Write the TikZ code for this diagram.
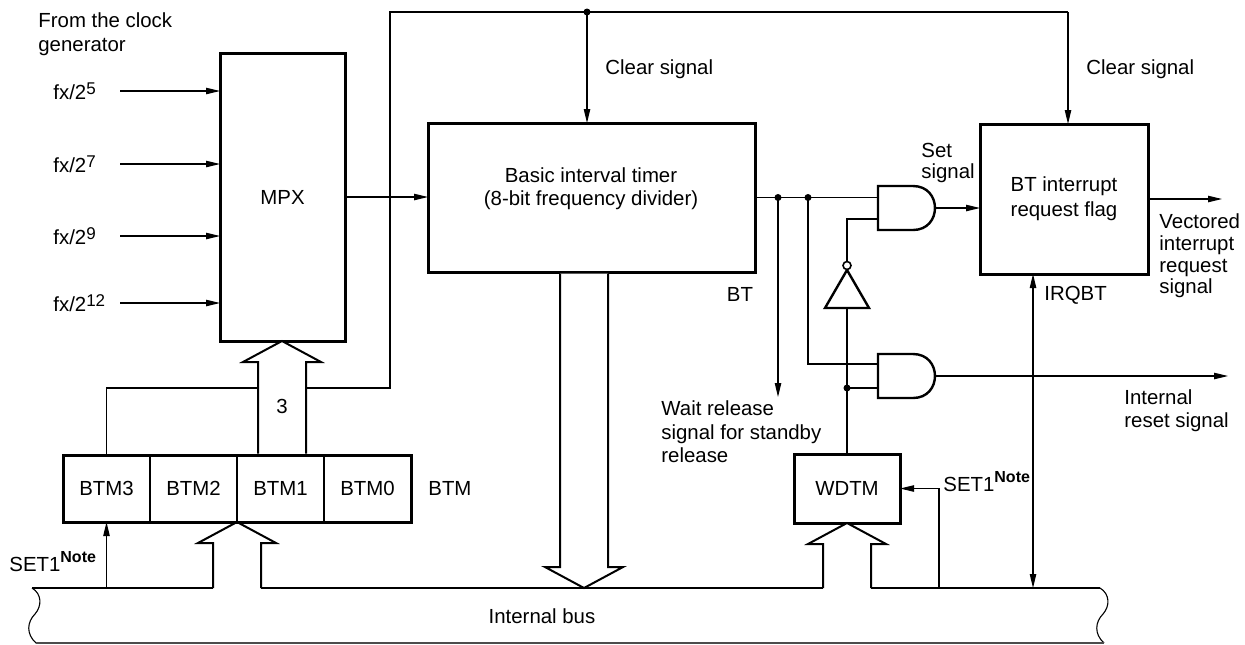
\documentclass[tikz,border=0pt]{standalone}
\usepackage{fontspec}
\setmainfont{Liberation Sans}
\usetikzlibrary{arrows.meta,calc}
\newcommand\wideup[3]{%
  \fill[white] (#1,#2) -- (#1+39,#2+21) -- (#1+24,#2+21) -- (#1+24,#3) -- (#1-24,#3) -- (#1-24,#2+21) -- (#1-39,#2+21) -- cycle;
  \draw[wide] (#1-24,#3) -- (#1-24,#2+21) -- (#1-39,#2+21) -- (#1,#2) -- (#1+39,#2+21) -- (#1+24,#2+21) -- (#1+24,#3);}
\newcommand\widedown[3]{%
  \fill[white] (#1,#2) -- (#1+39,#2-21) -- (#1+24,#2-21) -- (#1+24,#3) -- (#1-24,#3) -- (#1-24,#2-21) -- (#1-39,#2-21) -- cycle;
  \draw[wide] (#1-24,#3) -- (#1-24,#2-21) -- (#1-39,#2-21) -- (#1,#2) -- (#1+39,#2-21) -- (#1+24,#2-21) -- (#1+24,#3);}
\newcommand\mysup[1]{\raisebox{2.6pt}{\fontsize{8.5}{9}\selectfont #1}}
\newcommand\mynote{\raisebox{4.5pt}{\fontsize{8}{9}\selectfont\bfseries Note}}
\begin{document}
\begin{tikzpicture}[x=0.5pt,y=-0.5pt,
  font=\fontsize{10.2}{12}\selectfont,
  box/.style={draw,line width=1.5pt,inner sep=0pt,outer sep=0pt,align=center},
  cell/.style={draw,line width=0.8pt,inner sep=0pt,outer sep=0pt,minimum width=43.5pt,minimum height=33.5pt},
  sig/.style={line width=0.55pt},
  arr/.style={sig,-{Triangle[length=7pt,width=3.2pt]}},
  dblarr/.style={sig,{Triangle[length=7pt,width=3.2pt]}-{Triangle[length=7pt,width=3.2pt]}},
  gate/.style={line width=1.2pt,fill=white},
  wide/.style={line width=1pt},
  lbl/.style={inner sep=0pt,anchor=west,align=left},
  num/.style={inner sep=0pt}
]
\useasboundingbox (0,0) rectangle (1245,644);

% ---- blocks
\node[box,minimum width=62.5pt,minimum height=144pt] (mpx) at (282.5,197) {MPX};
\node[box,minimum width=163.5pt,minimum height=74.5pt] (bt) at (591.5,197.5) {};
\node[align=center,inner sep=0pt,font=\fontsize{10.2}{11.6}\selectfont] (bttxt) at (591,189) {Basic interval timer\\(8-bit frequency divider)};
\node[box,minimum width=84pt,minimum height=75pt,font=\fontsize{10.2}{12.4}\selectfont] (flag) at (1064,199) {BT interrupt\\request flag};
\node[box,minimum width=53pt,minimum height=34.5pt] (wdtm) at (847,488.5) {WDTM};
\node[cell] (btm3) at (106.5,488.5) {BTM3};
\node[cell] (btm2) at (193.5,488.5) {BTM2};
\node[cell] (btm1) at (280.5,488.5) {BTM1};
\node[cell] (btm0) at (367.5,488.5) {BTM0};

% ---- labels
\node[lbl] (from) at (38,34) {From the clock\\generator};
\node[lbl] (f5) at (53,91) {fx/2\mysup{5}};
\node[lbl] (f7) at (53,164) {fx/2\mysup{7}};
\node[lbl] (f9) at (53,236) {fx/2\mysup{9}};
\node[lbl] (f12) at (53,303) {fx/2\mysup{12}};
\node[lbl] (clr1) at (605,69) {Clear signal};
\node[lbl] (clr2) at (1086,69) {Clear signal};
\node[lbl,font=\fontsize{10.2}{10.6}\selectfont] (setl) at (921,163) {Set\\signal};
\node[lbl,font=\fontsize{10.2}{10.8}\selectfont] (vec) at (1159,256) {Vectored\\interrupt\\request\\signal};
\node[num] (btl) at (740,294) {BT};
\node[lbl] (irql) at (1044,295) {IRQBT};
\node[lbl,font=\fontsize{10.2}{11.75}\selectfont] (wait) at (661,432) {Wait release\\signal for standby\\release};
\node[lbl,font=\fontsize{10.2}{11.6}\selectfont] (rst) at (1124,411) {Internal\\reset signal};
\node[lbl] (btml) at (428,488) {BTM};
\node[num] (n3) at (282,406) {3};
\node[num] (n4) at (236,560) {4};
\node[num] (n8) at (583,555) {8};
\node[num] (n1) at (847,560) {1};
\node[lbl] (set1a) at (9,562) {SET1\mynote};
\node[lbl] (set1b) at (943,482) {SET1\mynote};
\node[num] (busl) at (542,616) {Internal bus};

% ---- clock inputs
\coordinate (inx) at (120,0);
\foreach \f in {f5,f7,f9,f12}{\draw[arr] (\f -| inx) -- (\f -| mpx.west);}
\draw[arr] (mpx.east) -- (mpx.east -| bt.west);

% ---- top clear network
\coordinate (bend) at (390,388);
\coordinate (tl) at (390,12);
\coordinate (tj) at (587,12);
\coordinate (tr) at (1068,12);
\draw[sig] (btm3.north) |- (bend) -- (tl) -- (tr);
\draw[arr] (tj) -- (tj |- bt.north);
\draw[arr] (tr) -- (tr |- flag.north);
\fill (tj) circle[radius=1.75pt];

% ---- gates
\draw[gate] (878,186) -- (913,186) .. controls (942.3,186) and (942.3,230) .. (913,230) -- (878,230) -- cycle;
\draw[gate] (878,354) -- (913,354) .. controls (942.3,354) and (942.3,398) .. (913,398) -- (878,398) -- cycle;
\draw[gate] (825,308) -- (869,308) -- (847,270) -- cycle;
\draw[line width=0.8pt,fill=white] (847,265.5) circle[radius=2pt];
\coordinate (g1a) at (878,197.5);
\coordinate (g1b) at (878,219);
\coordinate (g1o) at (935,208);
\coordinate (g2a) at (878,364);
\coordinate (g2b) at (878,388);
\coordinate (g2o) at (935,376);
\coordinate (bubtop) at (847,261.5);
\coordinate (invbase) at (847,308);
\coordinate (d1) at (778,197.5);
\coordinate (d2) at (808,197.5);
\coordinate (d3) at (847,388);
\coordinate (waitend) at (778,397);
\coordinate (rstend) at (1228,376);
\coordinate (vecend) at (1222,199);

\draw[sig] (bt.east) -- (g1a);
\draw[arr] (d1) -- (waitend);
\draw[sig] (d2) |- (g2a);
\draw[sig] (bubtop) |- (g1b);
\draw[sig] (invbase) -- (wdtm.north);
\draw[sig] (d3) -- (g2b);
\fill (d1) circle[radius=1.75pt];
\fill (d2) circle[radius=1.75pt];
\fill (d3) circle[radius=1.75pt];
\draw[arr] (g1o) -- (g1o -| flag.west);
\draw[arr] (g2o) -- (rstend);
\draw[arr] (flag.east) -- (vecend);

% ---- internal bus
\coordinate (bl) at (32,588);
\coordinate (br) at (1100,588);
\draw[sig] (bl) -- (213,588);
\draw[sig] (261,588) -- (823,588);
\draw[sig] (871,588) -- (br);
\draw[sig] (bl) .. controls (42,594) and (42,606) .. (35,614) .. controls (27,622) and (26,634) .. (36,643);
\draw[sig] (br) .. controls (1110,594) and (1110,606) .. (1103,614) .. controls (1095,622) and (1094,634) .. (1104,643);
\draw[sig,black!70] (36,643) -- (1104,643);

\coordinate (s1) at (106.5,588);
\coordinate (s2) at (939,588);
\coordinate (irq) at (1033,588);
\draw[arr] (s1) -- (btm3.south);
\draw[arr] (s2) |- (wdtm.east);
\draw[dblarr] (irq) -- (irq |- flag.south);

% ---- wide bus arrows
\wideup{282}{341}{453.5}
\wideup{237}{522}{588}
\wideup{847}{523}{588}
\widedown{584}{588}{273.5}
\node[num] at (n3) {3};

% ---- BTM outline
\draw[line width=1.5pt] (btm3.north west) rectangle (btm0.south east);
\end{tikzpicture}
\end{document}
